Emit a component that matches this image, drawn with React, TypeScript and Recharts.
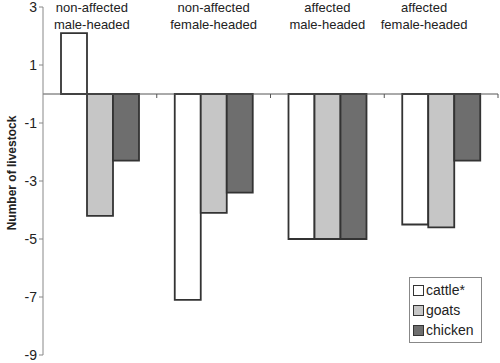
import React from "react";
import { BarChart, Bar, XAxis, YAxis, ReferenceLine } from "recharts";

const groupStatus = ["non-affected", "non-affected", "affected", "affected"];
const groupHead = ["male-headed", "female-headed", "male-headed", "female-headed"];
const cattle = [2.1, -7.1, -5.0, -4.5];
const goats = [-4.2, -4.1, -5.0, -4.6];
const chicken = [-2.3, -3.4, -5.0, -2.3];
const yTicks = [3, 1, -1, -3, -5, -7, -9];

// small horizontal nudges of the group captions, as in the original figure
const captionShift = [-8, 0, 0, -17];

const series = [
  { key: "cattle", name: "cattle*", fill: "#ffffff" },
  { key: "goats", name: "goats", fill: "#c6c6c6" },
  { key: "chicken", name: "chicken", fill: "#6e6e6e" },
];

const data = groupStatus.map((s, i) => ({
  group: s + "|" + groupHead[i],
  cattle: cattle[i],
  goats: goats[i],
  chicken: chicken[i],
}));

const FONT = "'Liberation Sans', Arial, sans-serif";

function GroupTick(props: any) {
  const { x, y, payload, index } = props;
  const [a, b] = String(payload.value).split("|");
  const cx = x + (captionShift[index] || 0);
  return (
    <text x={cx} y={y} textAnchor="middle" fontFamily={FONT} fontSize={13} fill="#222">
      <tspan x={cx} dy={7}>{a}</tspan>
      <tspan x={cx} dy={17}>{b}</tspan>
    </text>
  );
}

function ZeroLine(props: any) {
  const { x1, x2, y1 } = props;
  const n = data.length;
  const marks = [];
  for (let i = 1; i <= n; i++) {
    const xx = x1 + ((x2 - x1) * i) / n;
    marks.push(<line key={i} x1={xx} x2={xx} y1={y1} y2={y1 + 4} stroke="#555" strokeWidth={1} />);
  }
  return (
    <g>
      <line x1={x1} x2={x2} y1={y1} y2={y1} stroke="#555" strokeWidth={1} />
      {marks}
    </g>
  );
}

function YLabel(props: any) {
  const vb = props.viewBox || { x: 0, y: 7, height: 348 };
  const cx = 12;
  const cy = vb.y + vb.height / 2 - 8;
  return (
    <text
      x={cx}
      y={cy}
      transform={`rotate(-90, ${cx}, ${cy})`}
      textAnchor="middle"
      dominantBaseline="central"
      fontFamily={FONT}
      fontSize={12}
      fontWeight="bold"
      fill="#222"
    >
      Number of livestock
    </text>
  );
}

function LegendBox() {
  return (
    <div
      style={{
        position: "absolute",
        left: 409,
        top: 277,
        width: 68,
        border: "1px solid #888",
        background: "#fff",
        padding: "2px 0 2px 3px",
        fontFamily: FONT,
        fontSize: 14,
        color: "#222",
      }}
    >
      {series.map((s) => (
        <div key={s.key} style={{ display: "flex", alignItems: "center", height: 20 }}>
          <span
            style={{
              display: "inline-block",
              width: 9,
              height: 9,
              border: "1.5px solid #333",
              background: s.fill,
              marginRight: 2,
            }}
          />
          {s.name}
        </div>
      ))}
    </div>
  );
}

export default function App() {
  return (
    <div style={{ position: "absolute", left: 0, top: 0, width: 500, height: 363, background: "#fff" }}>
      <BarChart
        width={500}
        height={363}
        data={data}
        margin={{ top: 6, right: 2, bottom: 8, left: 0 }}
        barCategoryGap={18}
        barGap={0}
      >
        <XAxis
          dataKey="group"
          orientation="top"
          height={1}
          axisLine={false}
          tickLine={false}
          tickSize={0}
          tick={<GroupTick />}
          interval={0}
        />
        <YAxis
          domain={[-9, 3]}
          ticks={yTicks}
          interval={0}
          width={43}
          tickSize={4}
          axisLine={{ stroke: "#888" }}
          tickLine={{ stroke: "#888" }}
          tick={{ fontFamily: FONT, fontSize: 14, fill: "#222" }}
          label={<YLabel />}
        />
        {series.map((s) => (
          <Bar
            key={s.key}
            dataKey={s.key}
            name={s.name}
            fill={s.fill}
            stroke="#333"
            strokeWidth={1.8}
            isAnimationActive={false}
          />
        ))}
        <ReferenceLine y={0} shape={<ZeroLine />} />
      </BarChart>
      <LegendBox />
    </div>
  );
}
